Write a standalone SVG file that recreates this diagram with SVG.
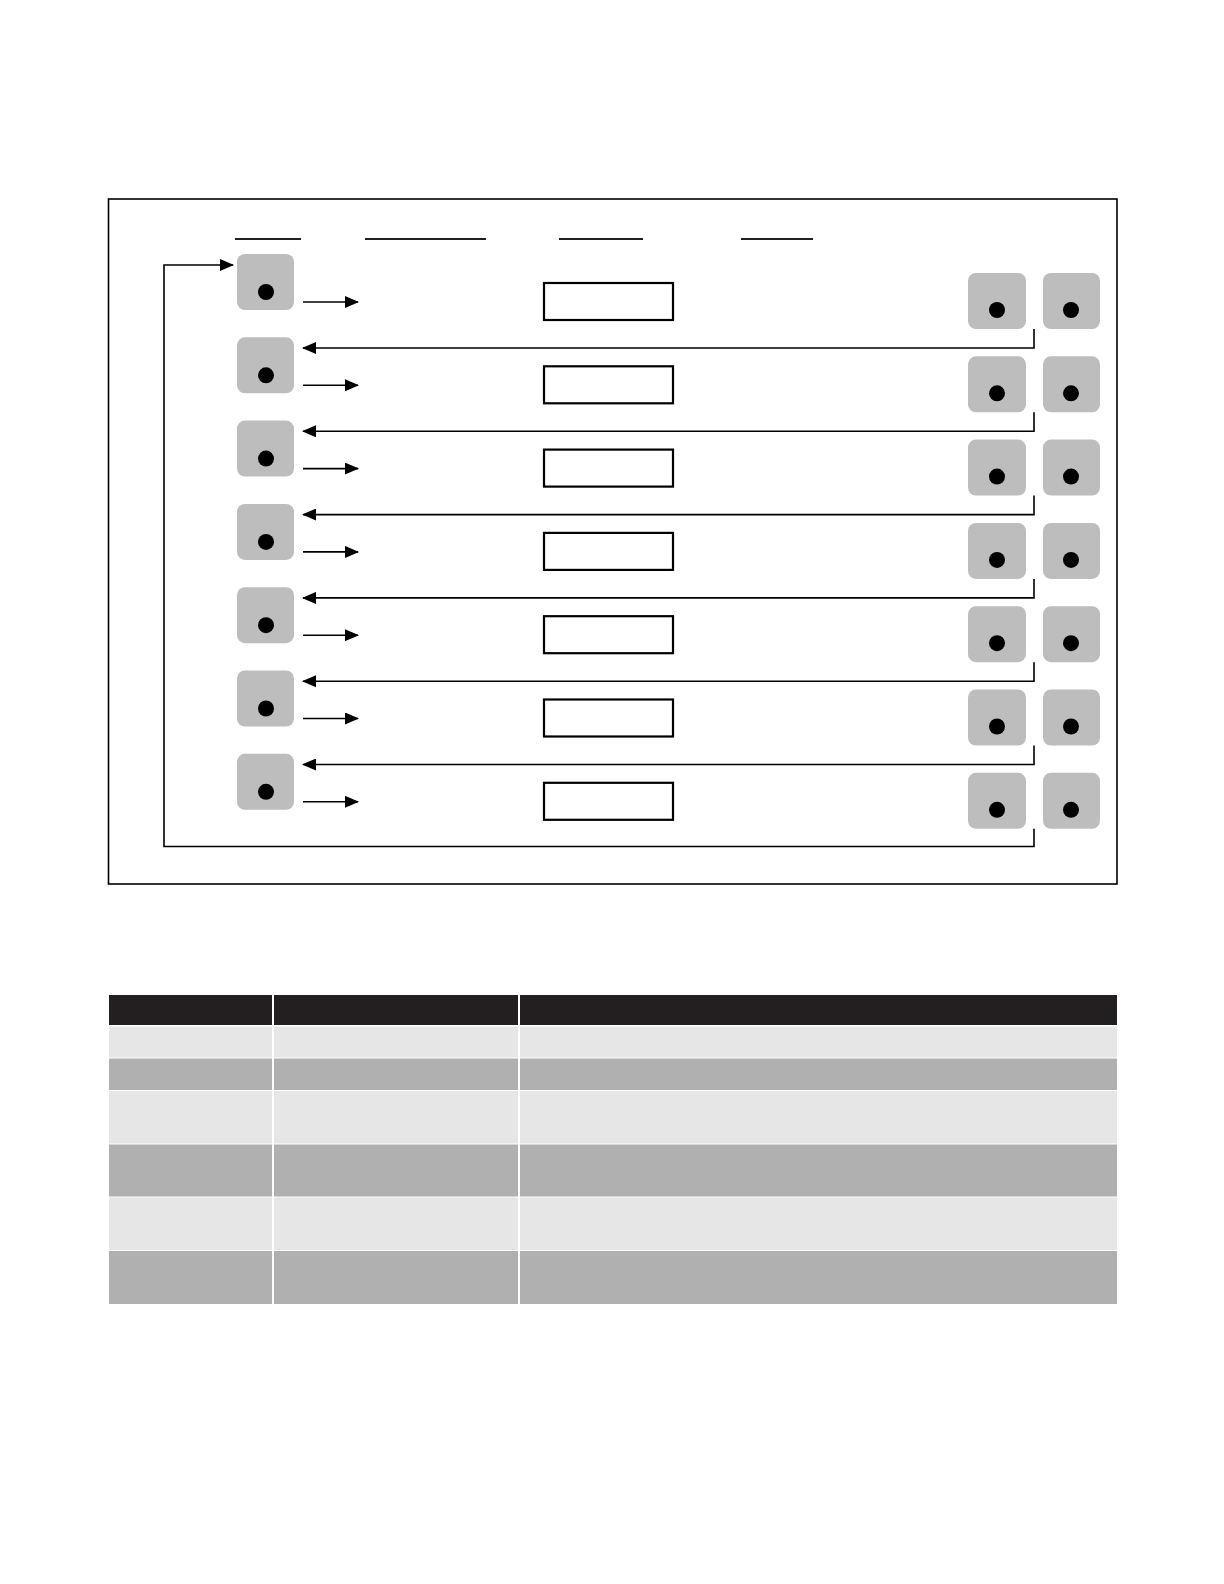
<svg xmlns="http://www.w3.org/2000/svg" width="1224" height="1584" viewBox="0 0 1224 1584">
<style>
.box{fill:#bdbdbd;}
.dot{fill:#000;}
.slot{fill:#fff;stroke:#000;stroke-width:2.2;}
.hdr{stroke:#231f20;stroke-width:2.2;}
.conn{fill:none;stroke:#000;stroke-width:1.6;}
.th{fill:#231f20;}
.lt{fill:#e6e6e6;}
.dk{fill:#b0b0b0;}
</style>
<defs>
<marker id="ah" markerUnits="userSpaceOnUse" markerWidth="14" markerHeight="12" refX="13" refY="6" orient="auto">
<path d="M0,0 L14,6 L0,12 Z" fill="#000"/>
</marker>
</defs>
<rect width="1224" height="1584" fill="#fff"/>
<rect x="108.5" y="199" width="1008.5" height="685" fill="none" stroke="#000" stroke-width="1.6"/>
<g id="headers">
<line class="hdr" x1="235" y1="239" x2="301" y2="239"/>
<line class="hdr" x1="365" y1="239" x2="486" y2="239"/>
<line class="hdr" x1="559" y1="239" x2="643" y2="239"/>
<line class="hdr" x1="741" y1="239" x2="813" y2="239"/>
</g>
<g id="connectors">
<line class="conn" x1="303" y1="302" x2="358" y2="302" marker-end="url(#ah)"/>
<line class="conn" x1="303" y1="385.3" x2="358" y2="385.3" marker-end="url(#ah)"/>
<line class="conn" x1="303" y1="468.6" x2="358" y2="468.6" marker-end="url(#ah)"/>
<line class="conn" x1="303" y1="551.9" x2="358" y2="551.9" marker-end="url(#ah)"/>
<line class="conn" x1="303" y1="635.2" x2="358" y2="635.2" marker-end="url(#ah)"/>
<line class="conn" x1="303" y1="718.5" x2="358" y2="718.5" marker-end="url(#ah)"/>
<line class="conn" x1="303" y1="801.8" x2="358" y2="801.8" marker-end="url(#ah)"/>
<path class="conn" d="M1034,329 V348 H303" marker-end="url(#ah)"/>
<path class="conn" d="M1034,412.3 V431.3 H303" marker-end="url(#ah)"/>
<path class="conn" d="M1034,495.6 V514.6 H303" marker-end="url(#ah)"/>
<path class="conn" d="M1034,578.9 V597.9 H303" marker-end="url(#ah)"/>
<path class="conn" d="M1034,662.2 V681.2 H303" marker-end="url(#ah)"/>
<path class="conn" d="M1034,745.5 V764.5 H303" marker-end="url(#ah)"/>
<path class="conn" d="M1034,828.8 V846.5 H164 V265 H233" marker-end="url(#ah)"/>
</g>
<g id="row1">
<rect class="box" x="237" y="254" width="57" height="56" rx="8"/><circle class="dot" cx="266" cy="292" r="8"/>
<rect class="slot" x="544" y="283" width="129" height="37"/>
<rect class="box" x="968" y="273" width="58" height="56" rx="8"/><circle class="dot" cx="997" cy="310" r="8"/>
<rect class="box" x="1043" y="273" width="57" height="56" rx="8"/><circle class="dot" cx="1071" cy="310" r="8"/>
</g>
<g id="row2" transform="translate(0,83.3)">
<rect class="box" x="237" y="254" width="57" height="56" rx="8"/><circle class="dot" cx="266" cy="292" r="8"/>
<rect class="slot" x="544" y="283" width="129" height="37"/>
<rect class="box" x="968" y="273" width="58" height="56" rx="8"/><circle class="dot" cx="997" cy="310" r="8"/>
<rect class="box" x="1043" y="273" width="57" height="56" rx="8"/><circle class="dot" cx="1071" cy="310" r="8"/>
</g>
<g id="row3" transform="translate(0,166.6)">
<rect class="box" x="237" y="254" width="57" height="56" rx="8"/><circle class="dot" cx="266" cy="292" r="8"/>
<rect class="slot" x="544" y="283" width="129" height="37"/>
<rect class="box" x="968" y="273" width="58" height="56" rx="8"/><circle class="dot" cx="997" cy="310" r="8"/>
<rect class="box" x="1043" y="273" width="57" height="56" rx="8"/><circle class="dot" cx="1071" cy="310" r="8"/>
</g>
<g id="row4" transform="translate(0,249.9)">
<rect class="box" x="237" y="254" width="57" height="56" rx="8"/><circle class="dot" cx="266" cy="292" r="8"/>
<rect class="slot" x="544" y="283" width="129" height="37"/>
<rect class="box" x="968" y="273" width="58" height="56" rx="8"/><circle class="dot" cx="997" cy="310" r="8"/>
<rect class="box" x="1043" y="273" width="57" height="56" rx="8"/><circle class="dot" cx="1071" cy="310" r="8"/>
</g>
<g id="row5" transform="translate(0,333.2)">
<rect class="box" x="237" y="254" width="57" height="56" rx="8"/><circle class="dot" cx="266" cy="292" r="8"/>
<rect class="slot" x="544" y="283" width="129" height="37"/>
<rect class="box" x="968" y="273" width="58" height="56" rx="8"/><circle class="dot" cx="997" cy="310" r="8"/>
<rect class="box" x="1043" y="273" width="57" height="56" rx="8"/><circle class="dot" cx="1071" cy="310" r="8"/>
</g>
<g id="row6" transform="translate(0,416.5)">
<rect class="box" x="237" y="254" width="57" height="56" rx="8"/><circle class="dot" cx="266" cy="292" r="8"/>
<rect class="slot" x="544" y="283" width="129" height="37"/>
<rect class="box" x="968" y="273" width="58" height="56" rx="8"/><circle class="dot" cx="997" cy="310" r="8"/>
<rect class="box" x="1043" y="273" width="57" height="56" rx="8"/><circle class="dot" cx="1071" cy="310" r="8"/>
</g>
<g id="row7" transform="translate(0,499.8)">
<rect class="box" x="237" y="254" width="57" height="56" rx="8"/><circle class="dot" cx="266" cy="292" r="8"/>
<rect class="slot" x="544" y="283" width="129" height="37"/>
<rect class="box" x="968" y="273" width="58" height="56" rx="8"/><circle class="dot" cx="997" cy="310" r="8"/>
<rect class="box" x="1043" y="273" width="57" height="56" rx="8"/><circle class="dot" cx="1071" cy="310" r="8"/>
</g>
<g id="table">
<rect class="th" x="109" y="995" width="163" height="30"/>
<rect class="th" x="274" y="995" width="244" height="30"/>
<rect class="th" x="520" y="995" width="597" height="30"/>
<rect class="lt" x="109" y="1026.5" width="163" height="31"/>
<rect class="lt" x="274" y="1026.5" width="244" height="31"/>
<rect class="lt" x="520" y="1026.5" width="597" height="31"/>
<rect class="dk" x="109" y="1058.5" width="163" height="31.5"/>
<rect class="dk" x="274" y="1058.5" width="244" height="31.5"/>
<rect class="dk" x="520" y="1058.5" width="597" height="31.5"/>
<rect class="lt" x="109" y="1091" width="163" height="52.5"/>
<rect class="lt" x="274" y="1091" width="244" height="52.5"/>
<rect class="lt" x="520" y="1091" width="597" height="52.5"/>
<rect class="dk" x="109" y="1144.5" width="163" height="52"/>
<rect class="dk" x="274" y="1144.5" width="244" height="52"/>
<rect class="dk" x="520" y="1144.5" width="597" height="52"/>
<rect class="lt" x="109" y="1197.5" width="163" height="52.5"/>
<rect class="lt" x="274" y="1197.5" width="244" height="52.5"/>
<rect class="lt" x="520" y="1197.5" width="597" height="52.5"/>
<rect class="dk" x="109" y="1251" width="163" height="53"/>
<rect class="dk" x="274" y="1251" width="244" height="53"/>
<rect class="dk" x="520" y="1251" width="597" height="53"/>
</g>
</svg>
